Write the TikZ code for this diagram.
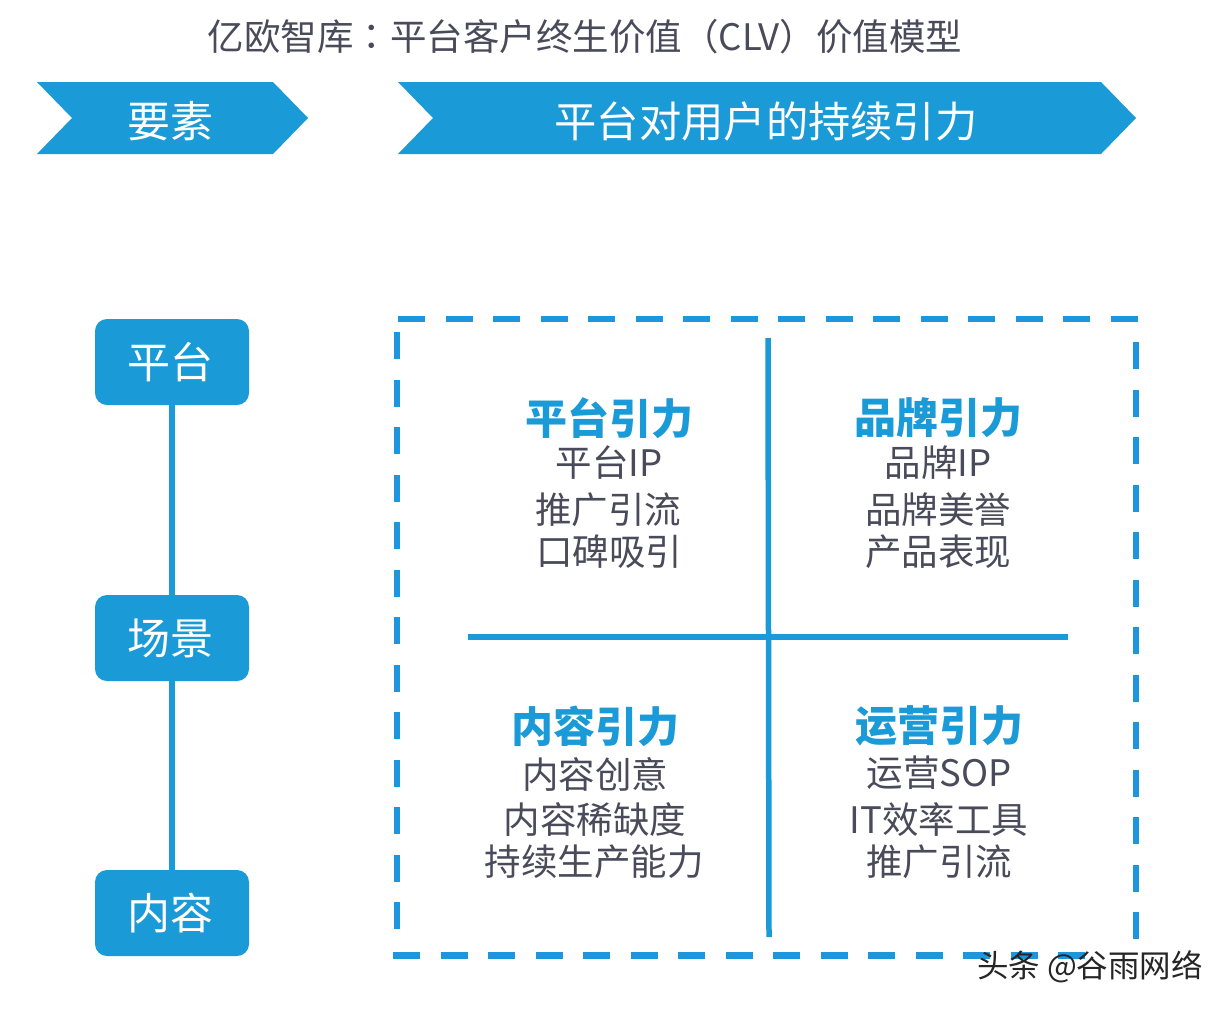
\documentclass[tikz,border=0pt]{standalone}
\usepackage{fontspec}
\setmainfont{Noto Sans CJK SC}
\newfontfamily\tcf{Noto Sans CJK TC}
\definecolor{bl}{HTML}{1A9AD6}
\definecolor{dsh}{HTML}{1E96DE}
\definecolor{tx}{HTML}{4A4A5A}
\begin{document}
\begin{tikzpicture}[x=1pt,y=-1pt,
 chev/.style={fill=bl,draw=none},
 rbox/.style={fill=bl,rounded corners=12pt,minimum width=154pt,minimum height=86pt,text=white,font=\fontsize{43}{43}\selectfont,inner sep=0pt},
 ttl/.style={text=tx,font=\fontsize{36.5}{36.5}\selectfont,inner sep=0pt},
 head/.style={text=white,font=\fontsize{43}{43}\selectfont,inner sep=0pt},
 headb/.style={text=white,font=\fontsize{42.3}{42.3}\selectfont,inner sep=0pt},
 qh/.style={text=bl,font=\fontsize{42}{42}\selectfont\bfseries,inner sep=0pt},
 qt/.style={text=tx,font=\fontsize{36.5}{36.5}\selectfont,inner sep=0pt},
 lin/.style={draw=bl,line width=5.5pt},
 dashline/.style={draw=dsh,line width=6.5pt,dash pattern=on 27pt off 20.5pt}]
\useasboundingbox (0,0) rectangle (1230,1010);
\fill[white] (0,0) rectangle (1230,1010);
\node[ttl] (title) at (585,37) {亿欧智库{\tcf ：}平台客户终生价值（CLV）价值模型};
\fill[chev] (37,82) -- (273,82) -- (308,118) -- (273,154) -- (37,154) -- (72,118) -- cycle;
\fill[chev] (398,82) -- (1101,82) -- (1136,118) -- (1101,154) -- (398,154) -- (433,118) -- cycle;
\node[head] (h1) at (170,121) {要素};
\node[headb] (h2) at (766,121) {平台对用户的持续引力};
\node[rbox] (a) at (172,362) {\raisebox{-1pt}{平台}\hspace*{3pt}};
\node[rbox] (b) at (172,638) {\raisebox{-1pt}{场景}\hspace*{3pt}};
\node[rbox] (c) at (172,913) {\raisebox{-2pt}{内容}\hspace*{3pt}};
\draw[lin] (a) -- (b);
\draw[lin] (b) -- (c);
\coordinate (tl) at (398,319); \coordinate (tr) at (1140,319);
\coordinate (ls) at (397,332); \coordinate (le) at (397,945);
\coordinate (rs) at (1136,342); \coordinate (re) at (1136,945);
\coordinate (bl1) at (393,955.5); \coordinate (br) at (1090,955.5);
\draw[dashline] (tl) -- (tr);
\draw[dashline] (ls) -- (le);
\draw[dashline] (rs) -- (re);
\draw[dashline] (bl1) -- (br);
\coordinate (vt) at (768,338); \coordinate (vb) at (769,937);
\coordinate (hl) at (468,637); \coordinate (hr) at (1068,637);
\draw[lin] (vt) -- (vb);
\draw[lin] (hl) -- (hr);
\node[qh] (q1) at (609,418) {平台引力};
\node[qt] (q1a) at (609,463) {平台IP};
\node[qt] (q1b) at (608,510) {推广引流};
\node[qt] (q1c) at (609,552) {口碑吸引};
\node[qh] (q2) at (938,418) {品牌引力};
\node[qt] (q2a) at (938,463) {品牌IP};
\node[qt] (q2b) at (938,510) {品牌美誉};
\node[qt] (q2c) at (938,552) {产品表现};
\node[qh] (q3) at (595,726) {内容引力};
\node[qt] (q3a) at (595,774) {内容创意};
\node[qt] (q3b) at (595,820) {内容稀缺度};
\node[qt] (q3c) at (594,862) {持续生产能力};
\node[qh] (q4) at (939,726) {运营引力};
\node[qt] (q4a) at (939,773) {运营SOP};
\node[qt] (q4b) at (939,820) {IT效率工具};
\node[qt] (q4c) at (939,862) {推广引流};
\fill[white] (974,959) rectangle (1208,988);
\node[text=black!85,font=\fontsize{31.5}{31.5}\selectfont,inner sep=0pt] (wm) at (1090,967) {头条 @谷雨网络};
\end{tikzpicture}
\end{document}
